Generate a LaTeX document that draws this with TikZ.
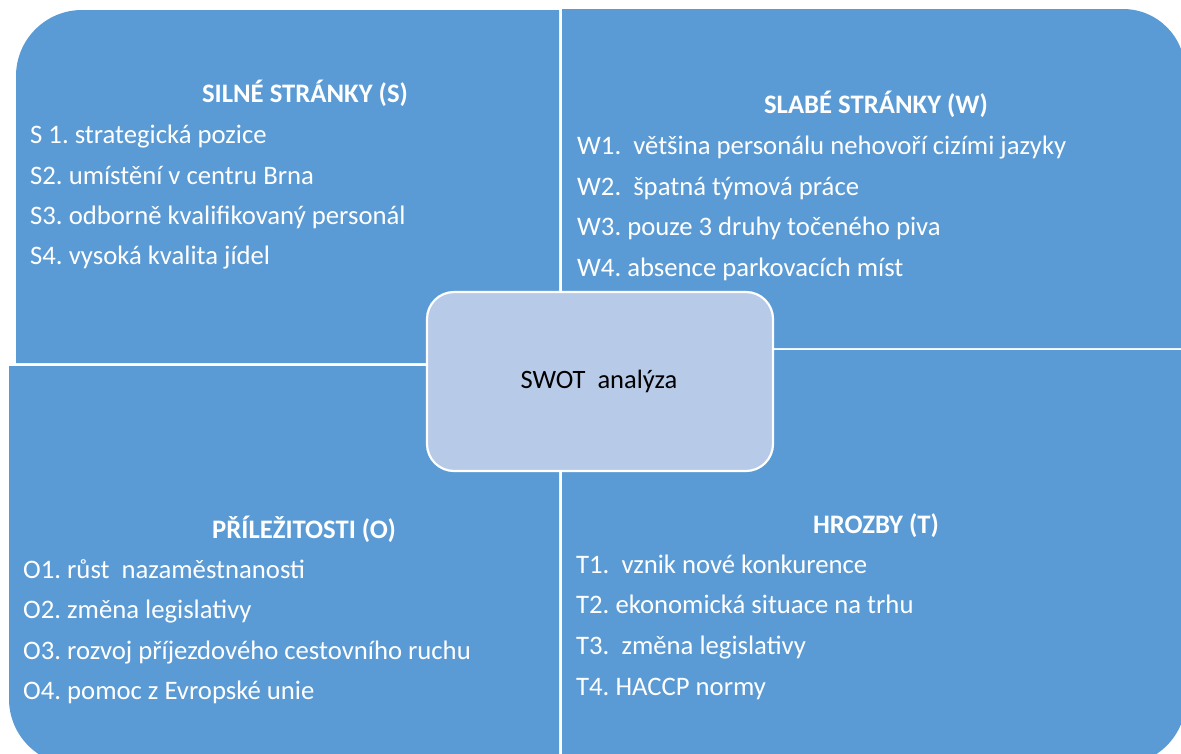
\documentclass[tikz,border=0pt]{standalone}
\usepackage{fontspec}
\setmainfont{Carlito}
\definecolor{quadblue}{RGB}{91,155,213}
\definecolor{centerblue}{RGB}{183,202,232}
\frenchspacing
\begin{document}
\begin{tikzpicture}[x=1pt,y=-1pt,
  item/.style={anchor=base west, text=white, inner sep=0pt, font=\fontsize{26.7}{30}\selectfont},
  head/.style={anchor=base, text=white, inner sep=0pt, font=\fontsize{26.7}{30}\selectfont\bfseries},
  quad/.style={fill=quadblue},
  centerbox/.style={draw=white, line width=2.2pt, fill=centerblue, rounded corners=27pt, minimum width=346pt, minimum height=179pt, inner sep=0pt}]
\useasboundingbox (0,0) rectangle (1181,753);
% quadrants
\fill[quad] (16,363) -- (16,76) arc[start angle=180,end angle=90,radius=66pt] -- (559,10) -- (559,363) -- cycle;
\fill[quad] (562,9) -- (1123,9) arc[start angle=90,end angle=0,radius=62pt] -- (1185,348) -- (562,348) -- cycle;
\fill[quad] (9,366) -- (559,366) -- (559,765) -- (75,765) arc[start angle=270,end angle=180,radius=66pt] -- cycle;
\fill[quad] (562,350) -- (1186,350) -- (1186,699) arc[start angle=0,end angle=-90,radius=66pt] -- (562,765) -- cycle;
% center
\node[centerbox] (swot) at (600,381.5) {};
\node[anchor=base, inner sep=0pt, font=\fontsize{26.5}{30}\selectfont] (swotlabel) at (599,388) {SWOT\ \ analýza};
% S
\node[head] (sh) at (305,102) {SILNÉ STRÁNKY (S)};
\node[item] (s1) at (30,143) {S 1. strategická pozice};
\node[item] (s2) at (30,184) {S2. umístění v centru Brna};
\node[item] (s3) at (30,224.5) {S3. odborně kvalifikovaný personál};
\node[item] (s4) at (30,264) {S4. vysoká kvalita jídel};
% W
\node[head] (wh) at (876,113) {SLABÉ STRÁNKY (W)};
\node[item] (w1) at (577,154) {W1.\ \ většina personálu nehovoří cizími jazyky};
\node[item] (w2) at (577,195) {W2.\ \ špatná týmová práce};
\node[item] (w3) at (577,235) {W3. pouze 3 druhy točeného piva};
\node[item] (w4) at (577,276) {W4. absence parkovacích míst};
% O
\node[head] (oh) at (304,538) {PŘÍLEŽITOSTI (O)};
\node[item] (o1) at (23,578) {O1. růst\ \ nazaměstnanosti};
\node[item] (o2) at (23,618.5) {O2. změna legislativy};
\node[item] (o3) at (23,659) {O3. rozvoj příjezdového cestovního ruchu};
\node[item] (o4) at (23,699.5) {O4. pomoc z Evropské unie};
% T
\node[head] (th) at (876,533) {HROZBY (T)};
\node[item] (t1) at (576,573) {T1.\ \ vznik nové konkurence};
\node[item] (t2) at (576,613.5) {T2. ekonomická situace na trhu};
\node[item] (t3) at (576,654.5) {T3.\ \ změna legislativy};
\node[item] (t4) at (576,695) {T4. HACCP normy};
\end{tikzpicture}
\end{document}
